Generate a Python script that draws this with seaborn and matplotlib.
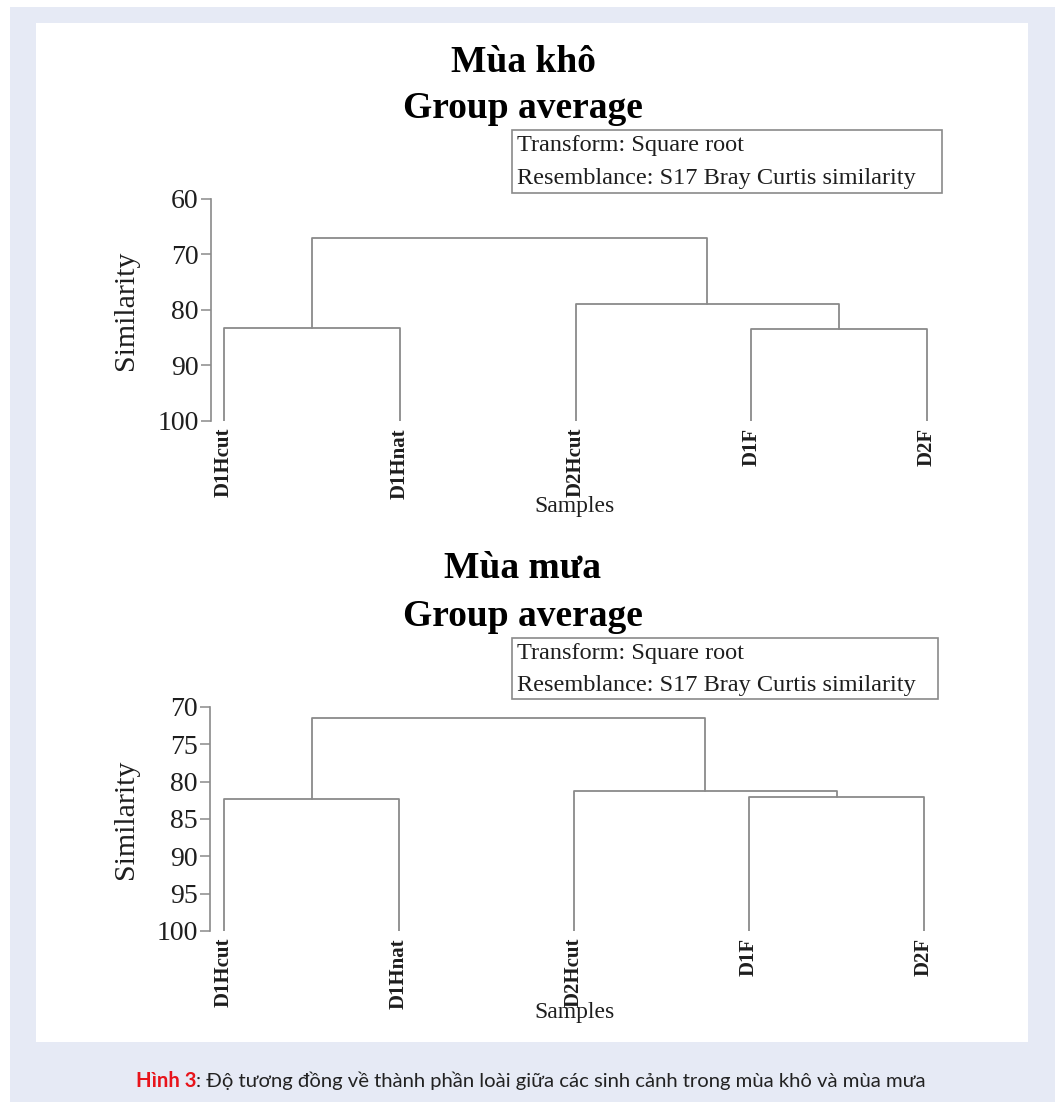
import matplotlib
matplotlib.use("Agg")
import matplotlib.pyplot as plt
from matplotlib.patches import Rectangle
import pandas as pd
import seaborn as sns

# Samples (leaf order) and average-linkage merges: (left, right, similarity %)
samples = ["D1Hcut", "D1Hnat", "D2Hcut", "D1F", "D2F"]

dry_merges = [
    ("D1Hcut", "D1Hnat", 83.2),
    ("D1F", "D2F", 83.4),
    ("D2Hcut", "D1F+D2F", 78.9),
    ("D1Hcut+D1Hnat", "D2Hcut+D1F+D2F", 67.0),
]
wet_merges = [
    ("D1Hcut", "D1Hnat", 82.3),
    ("D1F", "D2F", 82.0),
    ("D2Hcut", "D1F+D2F", 81.2),
    ("D1Hcut+D1Hnat", "D2Hcut+D1F+D2F", 71.5),
]

dry_ticks = [60, 70, 80, 90, 100]
wet_ticks = [70, 75, 80, 85, 90, 95, 100]

W, H = 1058, 1102
SERIF = ["Liberation Serif", "DejaVu Serif"]
LINE = "#8a8a8a"
TEXT = "#1e1e1e"

sns.set_style("white")
plt.rcParams["font.family"] = SERIF


def fx(px):
    return px / W


def fy(py):
    return 1 - py / H


def dendro_segments(leaves, merges):
    """Build U-shaped link polylines from a merge list."""
    pos = {name: float(i) for i, name in enumerate(leaves)}
    height = {name: 100.0 for name in leaves}
    rows = []
    for k, (a, b, h) in enumerate(merges):
        xa, xb = pos[a], pos[b]
        pts = [(xa, height[a]), (xa, h), (xb, h), (xb, height[b])]
        for j, (x, y) in enumerate(pts):
            rows.append({"link": k, "order": j, "x": x, "sim": y})
        new = a + "+" + b
        pos[new] = (xa + xb) / 2
        height[new] = h
    return pd.DataFrame(rows)


fig = plt.figure(figsize=(W / 100, H / 100), dpi=100)
fig.patch.set_facecolor("white")
fig.patches.append(Rectangle((fx(10), 0), fx(1055) - fx(10), fy(7),
                             transform=fig.transFigure, facecolor="#E6EAF5",
                             edgecolor="none", zorder=-3))
fig.patches.append(Rectangle((fx(36), fy(1042)), fx(1028) - fx(36), fy(23) - fy(1042),
                             transform=fig.transFigure, facecolor="white",
                             edgecolor="none", zorder=-2))


def draw_panel(merges, ticks, title, ax_px, leaf_px, box_px, title_y, xlabel_top):
    left, right, top, bottom = ax_px
    leaf0, step = leaf_px
    ax = fig.add_axes([fx(left), fy(bottom), fx(right) - fx(left), fy(top) - fy(bottom)])
    ax.set_facecolor("none")
    df = dendro_segments(samples, merges)
    sns.lineplot(data=df, x="x", y="sim", units="link", estimator=None, sort=False,
                 color=LINE, linewidth=1.3, ax=ax, legend=False)
    ax.set_xlim((left - leaf0) / step, (right - leaf0) / step)
    ax.set_ylim(100, ticks[0])
    for s in ["top", "right", "bottom"]:
        ax.spines[s].set_visible(False)
    ax.spines["left"].set_color(LINE)
    ax.spines["left"].set_linewidth(1.2)
    ax.set_yticks(ticks)
    ax.set_yticklabels([str(t) for t in ticks], fontsize=20, color=TEXT)
    ax.tick_params(axis="y", direction="out", length=7, width=1.1, color=LINE, pad=2,
                   left=True)
    ax.set_xticks(range(len(samples)))
    ax.set_xticklabels(samples, rotation=90, fontsize=15, fontweight="bold",
                       color=TEXT, va="top", ha="center")
    ax.tick_params(axis="x", length=0, pad=5)
    ax.set_xlabel("Samples", fontsize=17, color=TEXT)
    ax.xaxis.set_label_coords((575 - left) / (right - left),
                              (bottom - xlabel_top) / (bottom - top))
    ax.set_ylabel("Similarity", fontsize=21.5, color=TEXT)
    ax.yaxis.set_label_coords((139 - left) / (right - left), 0.5)

    fig.text(fx(523), fy(title_y[0]), title, ha="center", va="center",
             fontsize=27, fontweight="bold", color="black")
    fig.text(fx(523), fy(title_y[1]), "Group average", ha="center", va="center",
             fontsize=27, fontweight="bold", color="black")

    bx0, bx1, by0, by1 = box_px
    fig.patches.append(Rectangle((fx(bx0), fy(by1)), fx(bx1) - fx(bx0), fy(by0) - fy(by1),
                                 transform=fig.transFigure, facecolor="white",
                                 edgecolor=LINE, linewidth=1.2))
    fig.text(fx(bx0 + 5), fy(by0 + 16), "Transform: Square root", ha="left", va="center",
             fontsize=17.5, color=TEXT)
    fig.text(fx(bx0 + 5), fy(by0 + 48), "Resemblance: S17 Bray Curtis similarity",
             ha="left", va="center", fontsize=17.5, color=TEXT)
    return ax


ax_top = draw_panel(dry_merges, dry_ticks, "Mùa khô",
                    ax_px=(211, 945, 199, 421), leaf_px=(224, 175.75),
                    box_px=(512, 942, 130, 193), title_y=(62, 109), xlabel_top=496)
draw_panel(wet_merges, wet_ticks, "Mùa mưa",
           ax_px=(210, 945, 707, 931), leaf_px=(224, 175.0),
           box_px=(512, 938, 638, 699), title_y=(569, 616), xlabel_top=1002)

# Caption
CAP_FONT = ["Lato", "DejaVu Sans"]
cap1 = fig.text(fx(136), fy(1081), "Hình 3", ha="left", va="center",
                fontsize=14.6, fontweight="bold", color="#e8141b", family=CAP_FONT)
ax_top.annotate(
    ": Độ tương đồng về thành phần loài giữa các sinh cảnh trong mùa khô và mùa mưa",
    xy=(1, 0.5), xycoords=cap1, ha="left", va="center", fontsize=14.6,
    color="#222222", family=CAP_FONT, annotation_clip=False)

fig.savefig("out.png", dpi=100, facecolor=fig.get_facecolor())
